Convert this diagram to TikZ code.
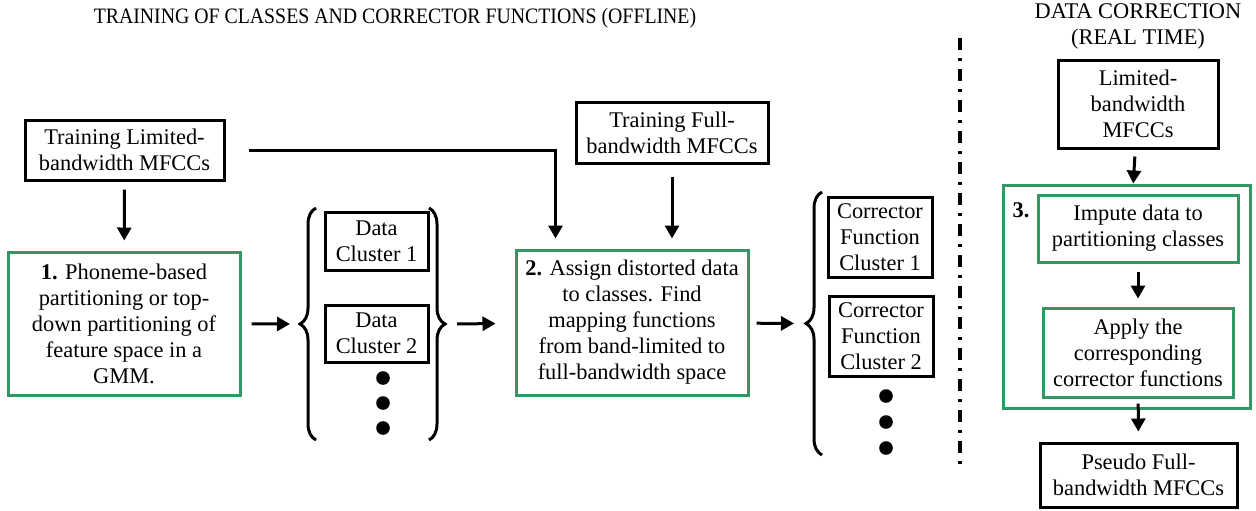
\documentclass[tikz,border=0pt]{standalone}
\usepackage{fontspec}
\setmainfont{Liberation Serif}
\newfontfamily\narrowserif[FakeStretch=0.9]{Liberation Serif}
\usetikzlibrary{arrows.meta, positioning, calc}
\usetikzlibrary{decorations.pathreplacing}
\definecolor{stepgreen}{RGB}{52,152,100}

\tikzset{
  plainbox/.style={draw=black, line width=1.5pt, align=center, inner sep=1pt},
  stepbox/.style={draw=stepgreen, line width=1.5pt, align=center, inner sep=1pt},
  flow/.style={line width=1.5pt, -{Triangle[length=6.5pt,width=7pt]}},
  curly/.style={line width=1.5pt, decorate, decoration={brace, amplitude=8pt}},
  bigdot/.style={fill=black, circle, inner sep=0pt, minimum size=6.8pt},
  sepline/.style={line width=1.6pt, dash pattern=on 6pt off 4pt on 1.5pt off 4pt}
}

\begin{document}
\begin{tikzpicture}[x=0.5pt, y=-0.5pt, font=\fontsize{11.2}{13}\selectfont]
  \useasboundingbox (0,0) rectangle (1256,510);

  % titles
  \node[font=\narrowserif\fontsize{11}{13}\selectfont] (titleoff) at (395,18)
    {TRAINING OF CLASSES AND CORRECTOR FUNCTIONS (OFFLINE)};
  \node[align=center, font=\fontsize{11.2}{13}\selectfont] (titlert) at (1138,26)
    {DATA CORRECTION\\(REAL TIME)};

  % separator
  \draw[sepline] (960,38) -- (960,470);

  % offline part
  \node[plainbox, minimum width=99.5pt, minimum height=30pt] (trainlim) at (124.5,150)
    {Training Limited-\\bandwidth MFCCs};
  \node[stepbox, minimum width=116pt, minimum height=71.5pt] (stage1) at (124,323.5)
    {\textbf{1.} Phoneme-based\\partitioning or top-\\down partitioning of\\feature space in a\\GMM.};

  \node[plainbox, minimum width=51.5pt, minimum height=29pt] (dclust1) at (376.5,241)
    {Data\\Cluster 1};
  \node[plainbox, minimum width=51.5pt, minimum height=28.5pt] (dclust2) at (376.5,333.5)
    {Data\\Cluster 2};
  \foreach \y [count=\i] in {378,403,428}
    \node[bigdot] (ddot\i) at (383,\y) {};

  \node[plainbox, minimum width=96pt, minimum height=30.5pt] (trainfull) at (672,132.5)
    {Training Full-\\bandwidth MFCCs};
  \node[stepbox, minimum width=116pt, minimum height=72.5pt] (stage2) at (632,322.5)
    {\textbf{2.} Assign distorted data\\to classes. Find\\mapping functions\\from band-limited to\\full-bandwidth space};

  \node[plainbox, minimum width=52pt, minimum height=40pt] (cfun1) at (880,237)
    {Corrector\\Function\\Cluster 1};
  \node[plainbox, minimum width=52pt, minimum height=40pt] (cfun2) at (881,336)
    {Corrector\\Function\\Cluster 2};
  \foreach \y [count=\i] in {396,422,448}
    \node[bigdot] (cdot\i) at (886,\y) {};

  % braces
  \coordinate (dbraceL) at (300,324);
  \coordinate (dbraceR) at (445,324);
  \coordinate (cbraceL) at (806,323.5);
  \draw[curly] (316,440) -- (316,208);
  \draw[curly] (429,208) -- (429,440);
  \draw[curly] (822,455) -- (822,192);

  % real-time part
  \node[plainbox, minimum width=80pt, minimum height=44pt] (limrt) at (1138,104)
    {Limited-\\bandwidth\\MFCCs};
  \node[stepbox, minimum width=100pt, minimum height=33.5pt] (impute) at (1138,228.5)
    {Impute data to\\partitioning classes};
  \node[stepbox, minimum width=95pt, minimum height=44.5pt] (apply) at (1138,352.5)
    {Apply the\\corresponding\\corrector functions};
  \node[draw=stepgreen, line width=1.5pt, minimum width=123.5pt, minimum height=111.5pt,
    inner sep=0pt] (stage3) at (1126.5,296.5) {};
  \node[font=\fontsize{11.2}{13}\selectfont\bfseries] (stage3num) at (1021,210) {3.};
  \node[plainbox, minimum width=98.5pt, minimum height=32pt] (pseudo) at (1138.5,475)
    {Pseudo Full-\\bandwidth MFCCs};

  % connectors
  \draw[flow, shorten <=4pt, shorten >=5pt] (trainlim) -- (stage1);
  \draw[flow, shorten <=5pt, shorten >=5pt] (stage1) -- (dbraceL);
  \draw[flow, shorten <=6pt, shorten >=9.5pt] (dbraceR) -- (stage2);
  \draw[flow, shorten <=3.5pt] ([xshift=8pt]trainlim.east) -| ([xshift=20.5pt, yshift=5pt]stage2.north west);
  \draw[flow, shorten <=6pt, shorten >=5pt] (trainfull.south) -- (trainfull.south |- stage2.north);
  \draw[flow, shorten <=3.5pt, shorten >=6pt] (stage2) -- (cbraceL);

  \draw[flow, shorten <=3.5pt] (limrt) -- (stage3);
  \draw[flow, shorten <=4pt, shorten >=4pt] (impute) -- (apply);
  \draw[flow, shorten <=2.5pt, shorten >=5pt] (apply) -- (pseudo);
\end{tikzpicture}
\end{document}
